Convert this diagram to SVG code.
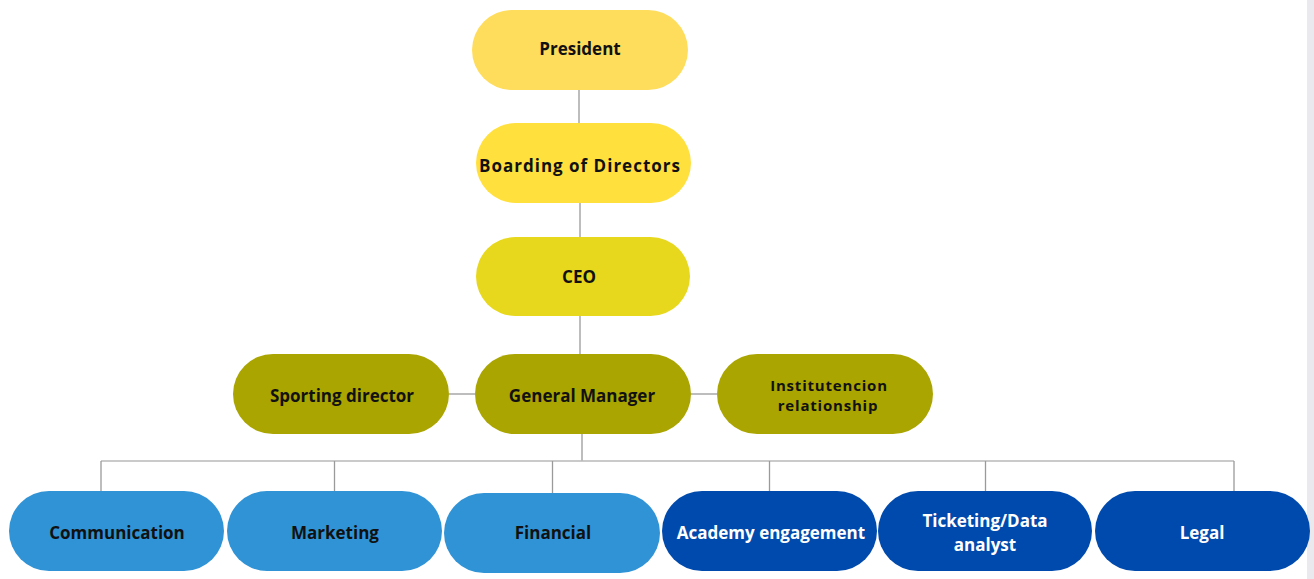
<svg xmlns="http://www.w3.org/2000/svg" width="1314" height="579" viewBox="0 0 1314 579">
  <style>
    .lbl { font-family: "Open Sans", "Noto Sans", "Liberation Sans", sans-serif; font-weight: 700; font-size: 17px; text-anchor: middle; dominant-baseline: central; fill: #111111; }
    .lbl.small { font-size: 15px; letter-spacing: 0.8px; }
    .lbl.wide { letter-spacing: 1px; }
    .light { fill: #ffffff; }
    .wire { stroke: #9a9a9a; stroke-width: 1.3; fill: none; }
    .bus { stroke: #b8b8b8; stroke-width: 1.6; fill: none; }
    .y1 { fill: #ffdd5c; }
    .y2 { fill: #ffe03d; }
    .y3 { fill: #e8d81d; }
    .ol { fill: #aaa500; }
    .lb { fill: #2f93d6; }
    .db { fill: #004aad; }
  </style>
  <rect width="1314" height="579" fill="#ffffff"/>
  <rect x="1307" y="0" width="7" height="579" fill="#e9e9ee"/>

  <g id="connectors">
    <line class="wire" x1="579" y1="90" x2="579" y2="123" stroke="#cccccc"/>
    <line class="wire" x1="580" y1="203" x2="580" y2="237"/>
    <line class="wire" x1="580" y1="316" x2="580" y2="354"/>
    <line class="wire" x1="449" y1="394" x2="475" y2="394"/>
    <line class="wire" x1="691" y1="394" x2="717" y2="394"/>
    <line class="wire" x1="582" y1="434" x2="582" y2="461"/>
    <line class="bus" x1="101" y1="461" x2="1234" y2="461"/>
    <line class="wire" x1="101" y1="461" x2="101" y2="491"/>
    <line class="wire" x1="334.5" y1="461" x2="334.5" y2="491"/>
    <line class="wire" x1="552.5" y1="461" x2="552.5" y2="493"/>
    <line class="wire" x1="769.5" y1="461" x2="769.5" y2="491"/>
    <line class="wire" x1="985.5" y1="461" x2="985.5" y2="491"/>
    <line class="wire" x1="1234" y1="461" x2="1234" y2="491"/>
  </g>

  <g id="president">
    <rect class="y1" x="472" y="10" width="216" height="80" rx="40"/>
    <text class="lbl" x="580" y="48">President</text>
  </g>
  <g id="board">
    <rect class="y2" x="476" y="123" width="215" height="80" rx="40"/>
    <text class="lbl wide" x="580" y="165">Boarding of Directors</text>
  </g>
  <g id="ceo">
    <rect class="y3" x="476" y="237" width="214" height="79" rx="39.5"/>
    <text class="lbl" x="579" y="276">CEO</text>
  </g>

  <g id="sporting-director">
    <rect class="ol" x="233" y="354" width="216" height="80" rx="40"/>
    <text class="lbl" x="342" y="395">Sporting director</text>
  </g>
  <g id="general-manager">
    <rect class="ol" x="475" y="354" width="216" height="80" rx="40"/>
    <text class="lbl" x="582" y="395">General Manager</text>
  </g>
  <g id="institutional-relationship">
    <rect class="ol" x="717" y="354" width="216" height="80" rx="40"/>
    <text class="lbl small" x="829" y="385">Institutencion</text>
    <text class="lbl small" x="828" y="405">relationship</text>
  </g>

  <g id="communication">
    <rect class="lb" x="9" y="491" width="215" height="80" rx="40"/>
    <text class="lbl" x="117" y="532">Communication</text>
  </g>
  <g id="marketing">
    <rect class="lb" x="227" y="491" width="215" height="80" rx="40"/>
    <text class="lbl" x="335" y="532">Marketing</text>
  </g>
  <g id="financial">
    <rect class="lb" x="444" y="493" width="216" height="80" rx="40"/>
    <text class="lbl" x="553" y="532">Financial</text>
  </g>
  <g id="academy-engagement">
    <rect class="db" x="662" y="491" width="215" height="80" rx="40"/>
    <text class="lbl light" x="771" y="532">Academy engagement</text>
  </g>
  <g id="ticketing-data-analyst">
    <rect class="db" x="878" y="491" width="214" height="80" rx="40"/>
    <text class="lbl light" x="985" y="520">Ticketing/Data</text>
    <text class="lbl light" x="985" y="544">analyst</text>
  </g>
  <g id="legal">
    <rect class="db" x="1095" y="491" width="215" height="80" rx="40"/>
    <text class="lbl light" x="1202" y="532">Legal</text>
  </g>
</svg>
